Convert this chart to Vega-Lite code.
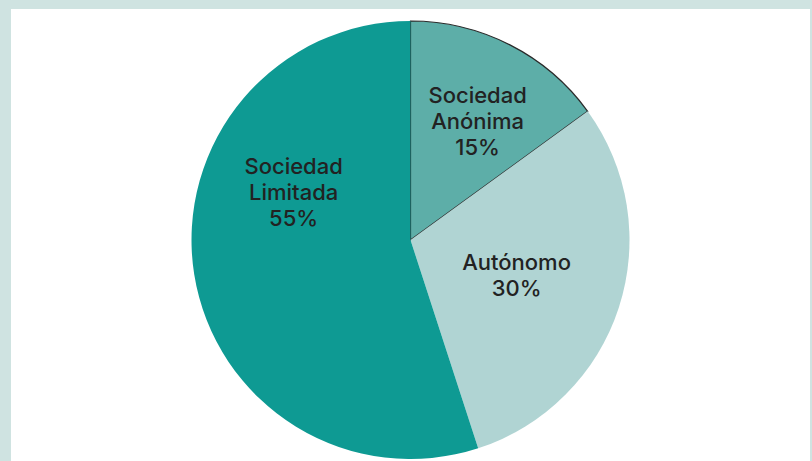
{
  "$schema": "https://vega.github.io/schema/vega-lite/v6.json",
  "width": 812,
  "height": 461,
  "autosize": {"type": "fit", "contains": "padding"},
  "padding": {"left": 11, "top": 9, "right": 2, "bottom": -10},
  "background": "#cfe3e1",
  "view": {"fill": "white", "stroke": null},
  "data": {
    "values": [
      {"tipo": "Sociedad Anónima", "pct": 15, "orden": 1, "etiqueta": ["Sociedad", "Anónima", "15%"]},
      {"tipo": "Autónomo", "pct": 30, "orden": 2, "etiqueta": ["Autónomo", "30%"]},
      {"tipo": "Sociedad Limitada", "pct": 55, "orden": 3, "etiqueta": ["Sociedad", "Limitada", "55%"]}
    ]
  },
  "encoding": {
    "theta": {"field": "pct", "type": "quantitative", "stack": true},
    "order": {"field": "orden", "type": "quantitative"}
  },
  "layer": [
    {
      "mark": {"type": "arc", "outerRadius": 219, "stroke": "#2a2a2a"},
      "encoding": {
        "color": {
          "field": "tipo",
          "type": "nominal",
          "legend": null,
          "scale": {
            "domain": ["Sociedad Anónima", "Autónomo", "Sociedad Limitada"],
            "range": ["#5daea8", "#b0d4d3", "#0e9a93"]
          }
        },
        "strokeWidth": {
          "condition": {"test": "datum.tipo === 'Sociedad Anónima'", "value": 1.2},
          "value": 0
        }
      }
    },
    {
      "mark": {"type": "text", "radius": 136, "thetaOffset": 0.045, "dy": -26, "font": "Inter", "fontSize": 22, "fontWeight": 500, "lineHeight": 26, "color": "#222222", "align": "center", "baseline": "middle"},
      "encoding": {
        "text": {"condition": {"test": "datum.tipo === 'Sociedad Anónima'", "field": "etiqueta"}, "value": ""}
      }
    },
    {
      "mark": {"type": "text", "radius": 112, "thetaOffset": 0.013, "dy": -13, "font": "Inter", "fontSize": 22, "fontWeight": 500, "lineHeight": 26, "color": "#222222", "align": "center", "baseline": "middle"},
      "encoding": {
        "text": {"condition": {"test": "datum.tipo === 'Autónomo'", "field": "etiqueta"}, "value": ""}
      }
    },
    {
      "mark": {"type": "text", "radius": 126, "thetaOffset": 0.54, "dy": -26, "font": "Inter", "fontSize": 22, "fontWeight": 500, "lineHeight": 26, "color": "#222222", "align": "center", "baseline": "middle"},
      "encoding": {
        "text": {"condition": {"test": "datum.tipo === 'Sociedad Limitada'", "field": "etiqueta"}, "value": ""}
      }
    }
  ]
}
